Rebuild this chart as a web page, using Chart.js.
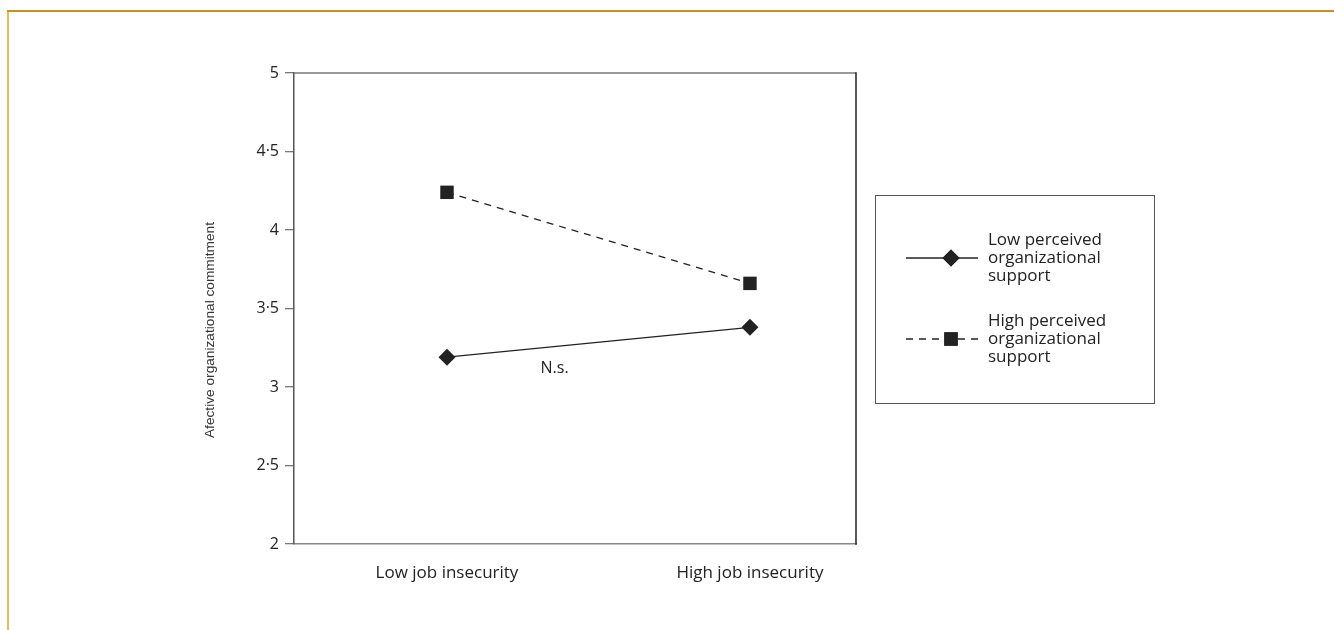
<!DOCTYPE html>
<html>
<head>
<meta charset="utf-8">
<script src="https://cdn.jsdelivr.net/npm/chart.js@4.4.1/dist/chart.umd.min.js"></script>
<style>
  html, body { margin: 0; padding: 0; background: #ffffff; }
  #wrap { position: relative; width: 1334px; height: 630px; }
  canvas { display: block; }
</style>
</head>
<body>
<div id="wrap"><canvas id="c" width="1334" height="630"></canvas></div>
<script>
// ---- data ----
const categories = ['Low job insecurity', 'High job insecurity'];
const categoryPositions = [0, 1];
const lowPOS = [3.19, 3.38];
const highPOS = [4.24, 3.66];
const seriesNames = [
  ['Low perceived', 'organizational', 'support'],
  ['High perceived', 'organizational', 'support']
];
const yTickValues = [2, 2.5, 3, 3.5, 4, 4.5, 5];
const yTickLabels = ['2', '2·5', '3', '3·5', '4', '4·5', '5'];
const yAxisTitle = 'Afective organizational commitment';
const noteText = 'N.s.';
const notePos = { x: 0.355, y: 3.12 };

const TEXT_FONT = '"Open Sans", "Noto Sans", sans-serif';
const INK = '#222222';

const framePlugin = {
  id: 'framePlugin',
  beforeDraw(chart) {
    const ctx = chart.ctx;
    ctx.save();
    // orange page frame
    ctx.lineWidth = 2;
    ctx.strokeStyle = '#e6bd60';
    ctx.beginPath(); ctx.moveTo(8, 11); ctx.lineTo(8, 630); ctx.stroke();
    ctx.strokeStyle = '#c8901e';
    ctx.beginPath(); ctx.moveTo(7, 11); ctx.lineTo(1334, 11); ctx.stroke();
    ctx.restore();
  },
  afterDatasetsDraw(chart) {
    const ctx = chart.ctx;
    const a = chart.chartArea;
    ctx.save();
    // top and right plot box borders
    ctx.lineWidth = 1.5;
    ctx.strokeStyle = '#777777';
    ctx.beginPath(); ctx.moveTo(a.left, a.top); ctx.lineTo(a.right, a.top); ctx.stroke();
    ctx.strokeStyle = '#222222';
    ctx.beginPath(); ctx.moveTo(a.right, a.top - 0.75); ctx.lineTo(a.right, a.bottom + 0.75); ctx.stroke();

    // y-axis title
    ctx.fillStyle = '#333333';
    ctx.font = '13.7px "Liberation Sans", Arial, sans-serif';
    ctx.textAlign = 'center';
    ctx.textBaseline = 'middle';
    ctx.translate(210, 330);
    ctx.rotate(-Math.PI / 2);
    ctx.fillText(yAxisTitle, 0, 0);
    ctx.restore();

    // N.s. note
    ctx.save();
    const xs = chart.scales.x, ys = chart.scales.y;
    ctx.fillStyle = INK;
    ctx.font = '16px ' + TEXT_FONT;
    ctx.textAlign = 'center';
    ctx.textBaseline = 'middle';
    ctx.fillText(noteText, xs.getPixelForValue(notePos.x), ys.getPixelForValue(notePos.y));
    ctx.restore();

    // legend box
    ctx.save();
    ctx.lineWidth = 1;
    ctx.strokeStyle = '#555555';
    ctx.strokeRect(875.5, 195.5, 279, 208);
    const rows = [258, 339];
    chart.data.datasets.forEach((ds, i) => {
      const y = rows[i];
      ctx.save();
      ctx.strokeStyle = ds.borderColor;
      ctx.lineWidth = ds.borderWidth;
      ctx.setLineDash(ds.borderDash || []);
      ctx.beginPath(); ctx.moveTo(906, y); ctx.lineTo(978, y); ctx.stroke();
      ctx.setLineDash([]);
      ctx.restore();
      Chart.helpers.drawPoint(ctx, {
        pointStyle: ds.pointStyle, radius: ds.pointRadius, borderWidth: 0, rotation: 0
      }, 951, y);
      ctx.fillStyle = ds.pointBackgroundColor;
      ctx.fill();
      ctx.fillStyle = INK;
      ctx.font = '17px ' + TEXT_FONT;
      ctx.textAlign = 'left';
      ctx.textBaseline = 'middle';
      seriesNames[i].forEach((t, k) => ctx.fillText(t, 988, y - 18 + k * 18));
    });
    ctx.restore();
  }
};

new Chart(document.getElementById('c'), {
  type: 'line',
  data: {
    datasets: [
      {
        label: seriesNames[0].join(' '),
        data: categoryPositions.map((x, i) => ({ x, y: lowPOS[i] })),
        borderColor: INK, borderWidth: 1.3,
        pointStyle: 'rectRot', pointRadius: 8.5,
        pointBackgroundColor: INK, pointBorderColor: INK, pointBorderWidth: 0,
        fill: false, tension: 0
      },
      {
        label: seriesNames[1].join(' '),
        data: categoryPositions.map((x, i) => ({ x, y: highPOS[i] })),
        borderColor: INK, borderWidth: 1.3, borderDash: [7, 6],
        pointStyle: 'rect', pointRadius: 9.5,
        pointBackgroundColor: INK, pointBorderColor: INK, pointBorderWidth: 0,
        fill: false, tension: 0
      }
    ]
  },
  options: {
    responsive: false,
    animation: false,
    layout: { padding: { left: 196, top: 73, right: 478, bottom: 0 } },
    plugins: { legend: { display: false }, tooltip: { enabled: false } },
    scales: {
      x: {
        type: 'linear', min: -0.505, max: 1.35,
        afterBuildTicks(s) { s.ticks = categoryPositions.map(v => ({ value: v })); },
        afterFit(s) { s.height = 86; },
        grid: { display: true, drawOnChartArea: false, drawTicks: false, color: '#888888' },
        border: { display: true, color: '#888888', width: 1.5 },
        ticks: {
          padding: 19, color: INK, font: { family: TEXT_FONT, size: 17 },
          maxRotation: 0, autoSkip: false,
          callback(v) { const i = categoryPositions.indexOf(v); return i >= 0 ? categories[i] : ''; }
        }
      },
      y: {
        type: 'linear', min: 2, max: 5,
        afterBuildTicks(s) { s.ticks = yTickValues.map(v => ({ value: v })); },
        afterFit(s) { s.width = 98; },
        grid: { display: true, drawOnChartArea: false, drawTicks: true, tickLength: 9, color: '#777777', lineWidth: 1.3 },
        border: { display: true, color: '#555555', width: 1.5 },
        ticks: {
          padding: 6, color: INK, font: { family: TEXT_FONT, size: 16 },
          autoSkip: false,
          callback(v) { const i = yTickValues.indexOf(v); return i >= 0 ? yTickLabels[i] : ''; }
        }
      }
    }
  },
  plugins: [framePlugin]
});
</script>
</body>
</html>
